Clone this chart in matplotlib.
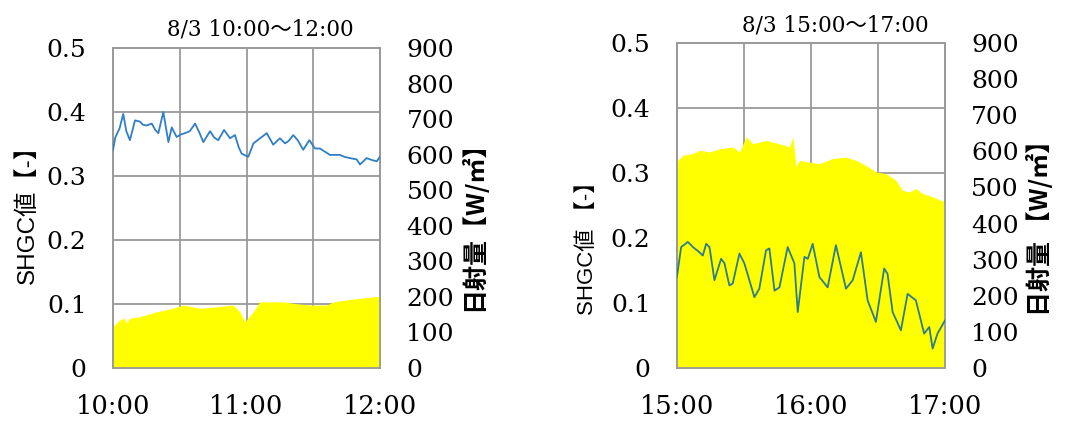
import numpy as np
import matplotlib.pyplot as plt

# minutes after the start of each 2-hour window
t_shgc_am = [0, 1, 3, 4.6, 6, 7.6, 9.9, 12.1, 13.5, 15.1, 17.4, 19, 20.4, 22.6, 24.9, 26.4, 28.6, 30.5, 32.4, 34.5,
             36.9, 38.8, 40.6, 43.6, 45.5, 47.3, 49.9, 52.6, 54.8, 56.5, 57.8, 60.8, 63.1, 66.1, 69.1, 72, 75, 77.3, 79, 81,
             83, 85.5, 88.2, 90.8, 93, 97.5, 100, 102, 104, 106.5, 109.5, 111, 114, 116.3, 118.5, 120]
shgc_am = [0.34, 0.36, 0.375, 0.397, 0.37, 0.356, 0.387, 0.385, 0.38, 0.379, 0.382, 0.372, 0.367, 0.40, 0.353, 0.376, 0.361, 0.365, 0.367, 0.37,
           0.382, 0.368, 0.353, 0.37, 0.36, 0.356, 0.372, 0.359, 0.364, 0.345, 0.335, 0.33, 0.351, 0.359, 0.367, 0.349, 0.359, 0.351, 0.355, 0.364,
           0.356, 0.341, 0.356, 0.343, 0.343, 0.333, 0.333, 0.333, 0.33, 0.328, 0.326, 0.318, 0.328, 0.325, 0.323, 0.33]

t_rad_am = [0, 0.75, 3, 5.2, 6, 7.5, 12, 19.5, 27, 31.5, 39, 46.5, 54, 57, 59.2, 63, 66, 76.5, 81, 88.5, 96, 99, 106.5, 114, 120]
rad_am = [121, 121, 135, 140, 126, 140, 144, 158, 168, 177, 168, 172, 177, 158, 130, 158, 186, 186, 182, 177, 177, 186, 193, 198, 202]

t_shgc_pm = [0, 1.9, 4.9, 7.2, 10.1, 11.6, 13.1, 14.6, 16.8, 19.8, 21.3, 23.5, 25, 28, 30.2, 34.7, 36.9, 39.9, 41.4, 43.7,
             45.9, 49.6, 52.6, 54.1, 57.1, 58.6, 60.8, 63.8, 67.5, 71.2, 75.7, 78.7, 82.4, 85.4, 89.1, 92.8, 94.3, 96.6, 100.3, 103.3,
             107, 110.7, 113, 114.5, 116.7, 120]
shgc_pm = [0.14, 0.186, 0.194, 0.186, 0.178, 0.173, 0.191, 0.186, 0.135, 0.168, 0.161, 0.127, 0.13, 0.176, 0.161, 0.109, 0.122, 0.181, 0.184, 0.119,
           0.124, 0.186, 0.161, 0.086, 0.171, 0.168, 0.191, 0.14, 0.124, 0.189, 0.122, 0.135, 0.178, 0.104, 0.071, 0.153, 0.145, 0.086, 0.058, 0.114,
           0.104, 0.053, 0.063, 0.03, 0.053, 0.073]

t_rad_pm = [0, 0.4, 2.7, 7.2, 10.1, 14.6, 19.1, 25, 28, 31, 34, 40, 45.9, 50.4, 51.9, 53.4, 54.8, 59.3, 63.8, 69.7,
            75.7, 80.2, 84.6, 89.1, 93.6, 98, 101, 104, 107, 110, 114.5, 120]
rad_pm = [575, 575, 589, 594, 603, 598, 607, 612, 598, 640, 621, 630, 621, 612, 640, 557, 575, 570, 566, 580,
          584, 575, 561, 543, 538, 520, 492, 487, 497, 483, 474, 460]

hours_am = ['10:00', '11:00', '12:00']
hours_pm = ['15:00', '16:00', '17:00']
title_am = '8/3 10:00～12:00'
title_pm = '8/3 15:00～17:00'

GRID = '#9a9a9a'
YELLOW = '#ffff00'
serif = 'DejaVu Serif'
cjk = ['Liberation Sans', 'Noto Sans CJK JP']

fig = plt.figure(figsize=(10.66, 4.21), dpi=100)


def panel(rect, t_line, shgc, t_fill, rad, hours, title, line_color, ylab, rlab, lab_size, lab_pos, rlab_pos, title_xy):
    ax = fig.add_axes(rect)
    ax.set_xlim(0, 120)
    ax.set_ylim(0, 0.5)
    ax.set_xticks([0, 60, 120])
    ax.set_xticks([30, 90], minor=True)
    ax.set_xticklabels(hours, fontfamily=serif, fontsize=18.5)
    ax.set_yticks(np.arange(0, 0.51, 0.1))
    ax.set_yticklabels(['0', '0.1', '0.2', '0.3', '0.4', '0.5'], fontfamily=serif, fontsize=18)
    ax.grid(True, which='both', color=GRID, lw=1.3)
    ax.tick_params(which='both', length=0, pad=19)
    for s in ax.spines.values():
        s.set_color(GRID)
        s.set_linewidth(1.3)

    # radiation on the right axis, line re-plotted on top in SHGC units
    ax2 = ax.twinx()
    ax2.set_ylim(0, 900)
    ax2.set_yticks(range(0, 901, 100))
    ax2.set_yticklabels([str(v) for v in range(0, 901, 100)], fontfamily=serif, fontsize=18)
    ax2.tick_params(length=0, pad=19)
    ax2.fill_between(t_fill, rad, 0, color=YELLOW, lw=0, zorder=2)
    ax2.plot(t_line, shgc, color=line_color, lw=1.3, transform=ax.transData, zorder=3)
    for s in ax2.spines.values():
        s.set_color(GRID)
        s.set_linewidth(1.3)

    ax.text(lab_pos[0], lab_pos[1], ylab, transform=ax.transAxes, rotation=90,
            ha='center', va='center', fontsize=lab_size, family=cjk)
    ax2.text(rlab_pos[0], rlab_pos[1], rlab, transform=ax.transAxes, rotation=90,
             ha='center', va='center', fontsize=18, family=['Noto Sans CJK JP'], fontweight='bold')
    ax.text(title_xy[0], title_xy[1], title, transform=ax.transAxes, ha='center', va='bottom',
            fontsize=15.5, family=[serif, 'Noto Sans CJK JP'])
    return ax, ax2


panel([0.106, 0.1259, 0.2505, 0.760], t_shgc_am, shgc_am, t_rad_am, rad_am, hours_am, title_am,
      '#2f7ec6', 'SHGC値【-】', '日射量【W/㎡】', 17.5, (-0.322, 0.50), (1.348, 0.4625), (0.55, 1.025))
panel([0.635, 0.1259, 0.2514, 0.772], t_shgc_pm, shgc_pm, t_rad_pm, rad_pm, hours_pm, title_pm,
      '#2b7c8c', 'SHGC値 【-】', '日射量 【W/㎡】', 16, (-0.332, 0.386), (1.354, 0.448), (0.59, 1.02))

plt.savefig('out.png', dpi=100)
